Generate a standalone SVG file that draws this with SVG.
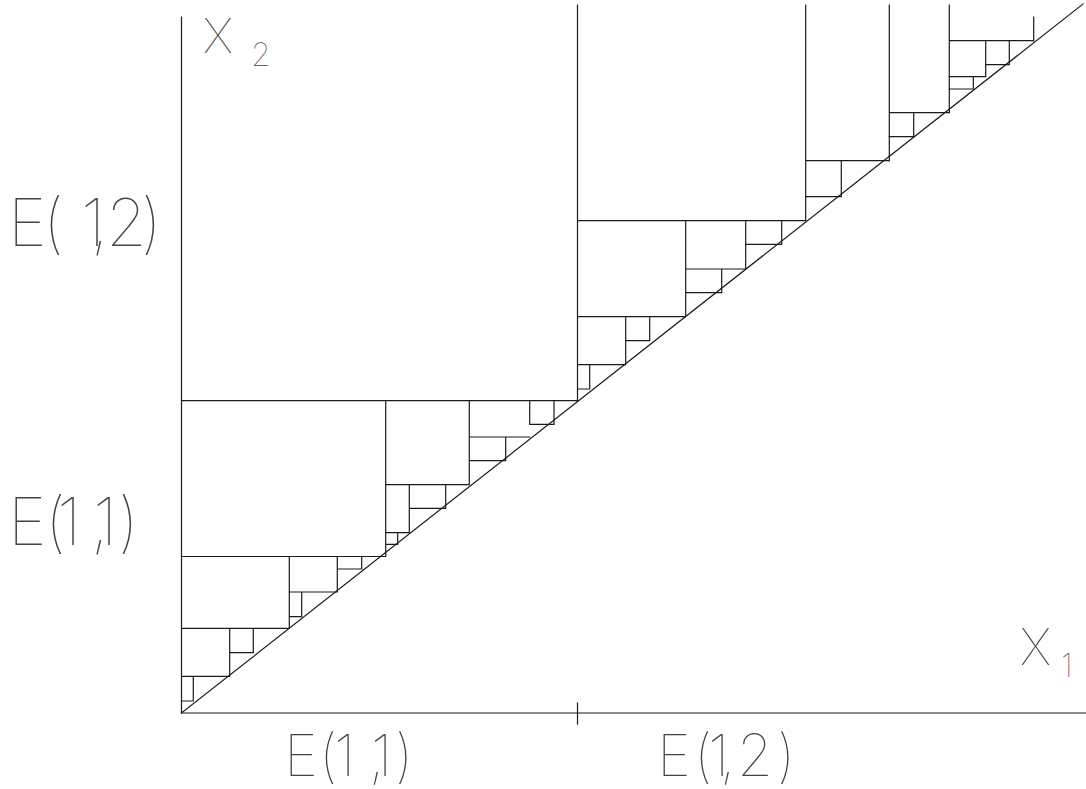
<svg xmlns="http://www.w3.org/2000/svg" width="1086" height="789" viewBox="0 0 1086 789">
<style>
.l{stroke:#1a1a1a;stroke-width:1.2;fill:none;stroke-linecap:square}
.t{font-family:Inter,Roboto,"DejaVu Sans",sans-serif;font-weight:100;fill:#444}
</style>
<rect width="1086" height="789" fill="#fff"/>
<g id="axes" class="l">
<line x1="181.5" y1="17" x2="181.5" y2="713"/>
<line x1="181.5" y1="713" x2="1086" y2="713"/>
<line x1="577.5" y1="703" x2="577.5" y2="724"/>
</g>
<g id="diagonal" class="l">
<line x1="181.5" y1="713" x2="1083" y2="4"/>
</g>
<g id="connectors" class="l">
<path d="M577.5 5V401M181.5 400.7H578M805.7 5V221M577.5 220.7H805.7M889.3 5V161M805.7 160.7H889.3M949.3 5V113M889.3 112.7H949.3M1033.7 17V41M949.3 40.7H1033.7"/>
<path d="M385.7 400.7V556.5M181.5 556.5H385.7M469.3 400.7V484.7M385.7 484.7H469.3M529.7 400.7V424.3M529.7 424.3H554M554 400.7V424.3M469.3 437H529.7M505.7 437V460.7M469.3 460.7H505.7M409.3 484.7V532.7M409.3 508.3H445.7M445.7 484.7V508.3M385.7 532.7H409.3M397.7 532.7V544.3M385.7 544.3H397.7"/>
<path d="M289.3 556.5V628.3M181.5 628.3H289.3M289.3 592H337.3M337.3 556.5V592M337.3 569H361.7M361.7 556.5V569M301.7 592V616.7M289.3 616.7H301.7M229.7 628.3V676.3M229.7 652.7H253.3M253.3 628.3V652.7M181.5 676.3H229.7M193.3 676.3V701M181.5 701H193.3"/>
<path d="M685.7 220.7V316.7M577.5 316.7H685.7M745.7 220.7V269M685.7 269H745.7M781.7 220.7V244.3M745.7 244.3H781.7M721.7 269V292.7M685.7 292.7H721.7M625.7 316.7V364.7M625.7 340.7H649.7M649.7 316.7V340.7M577.5 364.7H625.7M589.7 364.7V389M577.5 389H589.7"/>
<path d="M841.3 160.7V196.7M805.7 196.7H841.3M913.7 112.7V136.7M889.3 136.7H913.7M985.7 40.7V76.7M949.3 76.7H985.7M1009.3 40.7V64.7M985.7 64.7H1009.3M973.3 76.7V89M949.3 89H973.3"/>
</g>
<g id="label-x2" class="t">
<text x="203" y="53" font-size="48">X</text>
<text x="251" y="65.7" font-size="32">2</text>
</g>
<g id="label-x1" class="t">
<text x="1020" y="665" font-size="50">X</text>
<text x="1061" y="677" font-size="32">1</text>
</g>
<g id="label-e12-left" class="t">
<text x="8 43 81 91 106 141" y="245.7" font-size="66">E(1,2)</text>
</g>
<g id="label-e11-left" class="t">
<text x="8 45 57 91 93 118" y="545" font-size="66">E(1,1)</text>
</g>
<g id="label-e11-bottom" class="t">
<text x="284 319 334 369 371 395" y="776" font-size="58">E(1,1)</text>
</g>
<g id="label-e12-bottom" class="t">
<text x="657 694 708 720 737 777" y="776" font-size="58">E(1,2)</text>
</g>
</svg>
